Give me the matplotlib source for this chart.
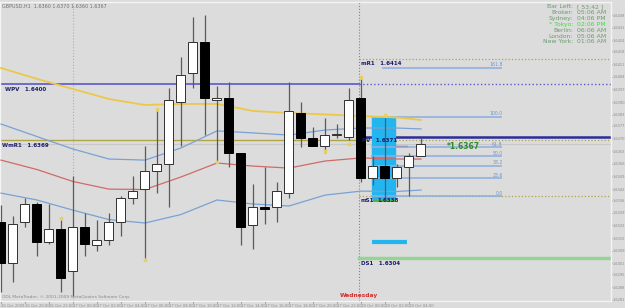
import numpy as np
import matplotlib.pyplot as plt

# hourly GBPUSD bars, 26 Oct 18:00 .. 28 Oct 05:00
opens = [1.6324, 1.6301, 1.6324, 1.6334, 1.6313, 1.6320, 1.6297, 1.6321, 1.6311, 1.6314,
         1.6324, 1.6337, 1.6342, 1.6352, 1.6356, 1.6390, 1.6406, 1.6423, 1.6391, 1.6392,
         1.6362, 1.6322, 1.6332, 1.6332, 1.6340, 1.6384, 1.6370, 1.6366, 1.6372, 1.6371,
         1.6392, 1.6348, 1.6355, 1.6348, 1.6354, 1.6360]
highs = [1.6333, 1.6327, 1.6337, 1.6335, 1.6334, 1.6325, 1.6349, 1.6329, 1.6325, 1.6329,
         1.6338, 1.6349, 1.6366, 1.6385, 1.6398, 1.6415, 1.6437, 1.6438, 1.6399, 1.6401,
         1.6362, 1.6345, 1.6354, 1.6346, 1.6401, 1.6390, 1.6376, 1.6381, 1.6378, 1.6398,
         1.6403, 1.6360, 1.6381, 1.6356, 1.6362, 1.6370]
lows = [1.6285, 1.6291, 1.6321, 1.6305, 1.6312, 1.6285, 1.6283, 1.6305, 1.6308, 1.6311,
        1.6316, 1.6334, 1.6304, 1.6340, 1.6332, 1.6366, 1.6398, 1.6372, 1.6357, 1.6354,
        1.6311, 1.6309, 1.6323, 1.6324, 1.6337, 1.6365, 1.6366, 1.6362, 1.6370, 1.6369,
        1.6346, 1.6344, 1.6337, 1.6343, 1.6338, 1.6360]
closes = [1.6301, 1.6323, 1.6334, 1.6313, 1.6320, 1.6293, 1.6321, 1.6312, 1.6314, 1.6324,
          1.6337, 1.6341, 1.6352, 1.6356, 1.6391, 1.6405, 1.6423, 1.6392, 1.6392, 1.6362,
          1.6321, 1.6332, 1.6331, 1.6341, 1.6385, 1.6370, 1.6366, 1.6372, 1.6372, 1.6391,
          1.6348, 1.6355, 1.6348, 1.6354, 1.6360, 1.6367]

time_ticks = list(range(0, 36, 2))
time_labels = ["26 Oct 2009", "26 Oct 20:00", "26 Oct 22:00", "27 Oct 00:00", "27 Oct 02:00",
               "27 Oct 04:00", "27 Oct 06:00", "27 Oct 08:00", "27 Oct 10:00", "27 Oct 12:00",
               "27 Oct 14:00", "27 Oct 16:00", "27 Oct 18:00", "27 Oct 20:00", "27 Oct 22:00",
               "28 Oct 00:00", "28 Oct 02:00", "28 Oct 04:00"]

price_ticks = [1.6438, 1.6431, 1.6424, 1.6418, 1.6411, 1.6404, 1.6397, 1.6390, 1.6383, 1.6377,
               1.6370, 1.6363, 1.6356, 1.6349, 1.6342, 1.6336, 1.6329, 1.6322, 1.6315, 1.6308,
               1.6301, 1.6295, 1.6288, 1.6281]

# indicator lines, sampled every 3 bars
ind_x = [0, 3, 6, 9, 12, 15, 18, 21, 24, 27, 30, 33, 35]
ma_slow = [1.64088, 1.64028, 1.63972, 1.63917, 1.63884, 1.63890, 1.63890, 1.63851, 1.63840,
           1.63832, 1.63823, 1.63815, 1.63801]
bb_upper = [1.63779, 1.63710, 1.63641, 1.63586, 1.63580, 1.63647, 1.63741, 1.63730, 1.63718,
            1.63746, 1.63757, 1.63757, 1.63752]
bb_mid = [1.63580, 1.63528, 1.63462, 1.63420, 1.63418, 1.63487, 1.63564, 1.63547, 1.63536,
          1.63575, 1.63592, 1.63586, 1.63586]
bb_lower = [1.63398, 1.63360, 1.63304, 1.63252, 1.63233, 1.63280, 1.63360, 1.63338, 1.63327,
            1.63387, 1.63409, 1.63407, 1.63415]

fib_names = ["0.0", "23.6", "38.2", "50.0", "61.8", "100.0", "161.8"]
fib_prices = [1.6338, 1.6348, 1.6355, 1.6360, 1.6365, 1.6382, 1.6409]

fractal_x = [5, 13, 12, 18, 27, 29, 30, 32]
fractal_y = [1.6326, 1.6386, 1.6303, 1.6357, 1.6363, 1.6367, 1.6404, 1.6383]

info_names = ["Bar Left:", "Broker:", "Sydney:", "* Tokyo:", "Berlin:", "London:", "New York:"]
info_values = ["[ 53:42 ]", "05:06 AM", "04:06 PM", "02:06 PM", "06:06 AM", "05:06 AM", "01:06 AM"]

narrow = ['Liberation Sans Narrow', 'DejaVu Sans']
bg = '#dcdcdc'
fig = plt.figure(figsize=(6.25, 3.08), dpi=100, facecolor=bg)
ax = fig.add_axes([0, 7/308, 611/625, 299/308])
ax.set_facecolor(bg)
x_lo, x_hi = -1/12, 610/12
ax.set_xlim(x_lo, x_hi)
ax.set_ylim(1.62803, 1.64452)

day_split = 29.85

# day separators
ax.axvline(6, color='#b0b0b0', lw=0.8, ls=':', zorder=1)
ax.axvline(day_split, color='#8080a0', lw=0.8, ls=':', zorder=1)

# pivot lines
ax.plot([x_lo, day_split], [1.6400, 1.6400], color='#5a5ac8', lw=1.2, zorder=2)
ax.plot([day_split, x_hi], [1.6400, 1.6400], color='#5a5ac8', lw=1.0, ls=':', zorder=2)
ax.plot([x_lo, day_split], [1.6369, 1.6369], color='#b0a448', lw=1.0, zorder=2)
ax.plot([day_split, x_hi], [1.6369, 1.6369], color='#b0a448', lw=0.9, ls=':', zorder=2)
ax.plot([day_split, x_hi], [1.6414, 1.6414], color='#b0a448', lw=0.9, ls=':', zorder=2)
ax.plot([day_split, x_hi], [1.6338, 1.6338], color='#b0a448', lw=0.9, ls=':', zorder=2)
ax.plot([day_split, x_hi], [1.6371, 1.6371], color='#2c2c9c', lw=1.8, zorder=2)
ax.plot([day_split, x_hi], [1.6304, 1.6304], color='#94d494', lw=2.5, zorder=2)
ax.axhline(1.6367, color='#c8c8c8', lw=0.8, zorder=1)

pv_text = dict(fontsize=4, color='#1c1c6c', fontweight='bold', va='top', zorder=6)
ax.text(0.3, 1.63985, "WPV   1.6400", **pv_text)
ax.text(0.1, 1.63675, "WmR1   1.6369", **pv_text)
ax.text(30.0, 1.64125, "mR1   1.6414", **pv_text)
ax.text(30.1, 1.63700, "PV   1.6371", **pv_text)
ax.text(30.0, 1.63370, "mS1", **pv_text)
ax.text(30.0, 1.63025, "DS1   1.6304", **pv_text)

# asian range box
ax.fill_between([30.9, 32.8], 1.6337, 1.6381, color='#22b5ef', zorder=2)
ax.plot([30.9, 33.8], [1.6313, 1.6313], color='#22b5ef', lw=3, solid_capstyle='butt', zorder=2)
ax.plot([30.9, 32.8], [1.6336, 1.6336], color='#4cae4c', lw=2, solid_capstyle='butt', zorder=3)
ax.text(31.4, 1.63370, "1.6338", fontsize=4, color='#1c1c6c', fontweight='bold', va='top', zorder=6)
ax.plot([32.8, 33.8], [1.6366, 1.6366], color='#c03060', lw=1, zorder=3)

# fibonacci
for name, p in zip(fib_names, fib_prices):
    x0 = 31.8 if name == "161.8" else 30.9
    ax.plot([x0, 41.7], [p, p], color='#8fb0dc', lw=1.3, alpha=0.9, zorder=3)
    ax.text(41.8, p + 0.00003, name, fontsize=3.3, color='#6f96cc', ha='right', va='bottom', zorder=6)

# moving average and bands
ax.plot(ind_x, ma_slow, color='#ecc84a', lw=1.3, zorder=3)
ax.plot(ind_x, bb_upper, color='#78a2d4', lw=0.9, zorder=3)
ax.plot(ind_x, bb_mid, color='#d06a6a', lw=0.9, zorder=3)
ax.plot(ind_x, bb_lower, color='#78a2d4', lw=0.9, zorder=3)

# candles
o = np.array(opens)
c = np.array(closes)
idx = np.arange(len(o))
ax.vlines(idx, lows, highs, color='#5a5a5a', lw=0.9, zorder=4)
up = c >= o
body_lo = np.minimum(o, c)
body_h = np.maximum(np.abs(c - o), 0.00004)
ax.bar(idx[up], body_h[up], bottom=body_lo[up], width=0.75, color='white',
       edgecolor='#303030', linewidth=0.7, zorder=5)
ax.bar(idx[~up], body_h[~up], bottom=body_lo[~up], width=0.75, color='black',
       edgecolor='black', linewidth=0.7, zorder=5)

# fractal markers
ax.scatter(fractal_x, fractal_y, s=3, color='#e8d060', zorder=6)

ax.text(37.2, 1.63655, "*1.6367", fontsize=5.5, color='#2e8b2e', fontweight='bold',
        va='center', zorder=6)
ax.text(day_split, 1.6282, "Wednesday", fontsize=4.2, color='#d03030', fontweight='bold',
        ha='center', va='bottom', zorder=6)

ax.text(0.003, 0.995, "GBPUSD,H1  1.6360 1.6370 1.6360 1.6367", transform=ax.transAxes,
        fontsize=3.5, color='#707070', va='top', family=narrow)
ax.text(0.004, 0.006, "ODL MetaTrader, \u00a9 2001-2009 MetaQuotes Software Corp.",
        transform=ax.transAxes, fontsize=3.2, color='#8a8a8a', va='bottom', family=narrow)

# clock panel
for i, (n, v) in enumerate(zip(info_names, info_values)):
    col = '#3ce03c' if 'Tokyo' in n else '#6d9a6d'
    y = 1 - (7 + i * 5.8) / 308
    fig.text(573/625, y, n, fontsize=4.4, color=col, ha='right', va='center', family=narrow)
    fig.text(577/625, y, v, fontsize=4.4, color=col, ha='left', va='center', family=narrow)

# axes
ax.set_xticks(time_ticks)
ax.set_xticklabels(time_labels, ha='left', family=narrow)
ax.set_yticks(price_ticks)
ax.set_yticklabels([f"{p:.4f}" for p in price_ticks], family=narrow)
ax.yaxis.tick_right()
ax.tick_params(axis='x', length=1.5, pad=0.5, labelsize=2.7, colors='#8a8a8a')
ax.tick_params(axis='y', length=1, pad=0.3, labelsize=2.6, colors='#8a8a8a')
for s in ax.spines.values():
    s.set_color('#f4f4f4')
    s.set_linewidth(1)

fig.savefig('out.png', dpi=100, facecolor=bg)
